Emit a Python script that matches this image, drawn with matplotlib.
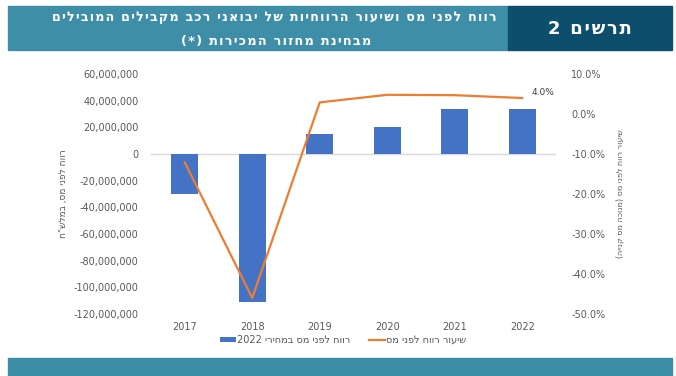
import matplotlib
matplotlib.use("Agg")
import matplotlib.pyplot as plt
from matplotlib.patches import Rectangle
from matplotlib.ticker import FuncFormatter
import re

plt.rcParams['font.family'] = ['DejaVu Sans']

years = ['2017', '2018', '2019', '2020', '2021', '2022']
profit = [-30e6, -111e6, 15e6, 20.3e6, 34e6, 33.8e6]
rate = [-12.1, -46.0, 2.9, 4.8, 4.7, 4.0]

title1 = 'רווח לפני מס ושיעור הרווחיות של יבואני רכב מקבילים המובילים'
title2 = 'מבחינת מחזור המכירות (*)'
box_label = 'תרשים 2'
left_label = 'רווח לפני מס, במלש"ח'
right_label = 'שיעור רווח לפני מס (מנוכה מס קנייה)'
bar_name = 'רווח לפני מס במחירי 2022'
line_name = 'שיעור רווח לפני מס'


def rtl(s):
    # visual order for hebrew text, numbers kept left to right
    r = s[::-1]
    r = re.sub(r'[0-9.,%]+', lambda m: m.group(0)[::-1], r)
    return r.translate(str.maketrans('()', ')('))


def spaced(s):
    # the header font in the source is letter spaced
    return '\u200a'.join(s)


fig = plt.figure(figsize=(6.76, 3.76), dpi=100)

# header
fig.patches.append(Rectangle((8/676, 1-50/376), 500/676, 44/376,
                             transform=fig.transFigure, color='#3e8ea8', zorder=0))
fig.patches.append(Rectangle((508/676, 1-50/376), 164/676, 44/376,
                             transform=fig.transFigure, color='#0c4e6c', zorder=0))
fig.text(497/676, 1-18/376, spaced(rtl(title1)), ha='right', va='center', color='white',
         fontsize=9.1, fontweight='bold')
fig.text(371/676, 1-42/376, spaced(rtl(title2)), ha='right', va='center', color='white',
         fontsize=9.3, fontweight='bold')
fig.text(590/676, 1-29/376, spaced(rtl(box_label)), ha='center', va='center', color='white',
         fontsize=13, fontweight='bold')

# bottom band
fig.patches.append(Rectangle((8/676, 0), 664/676, 18/376,
                             transform=fig.transFigure, color='#3b8ea6', zorder=0))

ax = fig.add_axes([151/676, 62/376, 405/676, 240/376])
x = range(len(years))
bars = ax.bar(x, profit, width=0.4, color='#4472c4', label=rtl(bar_name), zorder=2)
ax.set_ylim(-120e6, 60e6)
ax.set_yticks([v * 1e6 for v in range(-120, 61, 20)])
ax.yaxis.set_major_formatter(FuncFormatter(lambda v, p: f'{int(v):,}'))
ax.set_xlim(-0.5, 5.5)
ax.set_xticks(list(x))
ax.set_xticklabels(years)
ax.axhline(0, color='#d9d9d9', lw=1, zorder=1)
for s in ax.spines.values():
    s.set_visible(False)
ax.tick_params(length=0, labelsize=7, colors='#595959')
ax.tick_params(axis='y', pad=9)
ax.tick_params(axis='x', pad=6)
ax.set_ylabel(rtl(left_label), fontsize=6.5, color='#595959', labelpad=4)

ax2 = ax.twinx()
line, = ax2.plot(list(x), rate, color='#ed7d31', lw=1.6, label=rtl(line_name), zorder=3)
ax2.set_ylim(-50, 10)
ax2.set_yticks(range(-50, 11, 10))
ax2.yaxis.set_major_formatter(FuncFormatter(lambda v, p: f'{v:.1f}%'))
for s in ax2.spines.values():
    s.set_visible(False)
ax2.tick_params(length=0, labelsize=7, colors='#595959', pad=11)
ax2.set_ylabel(rtl(right_label), fontsize=5.8, color='#595959', rotation=90, labelpad=7)
ax2.annotate(f'{rate[-1]:.1f}%', (5, rate[-1]), xytext=(7, 1), textcoords='offset points',
             fontsize=6.5, color='#404040', va='bottom', ha='left')

fig.legend([bars, line], [rtl(bar_name), rtl(line_name)], loc='center',
           bbox_to_anchor=(343/676, 1-340/376), ncol=2, frameon=False, fontsize=7,
           handlelength=1.6, handleheight=0.5, columnspacing=2.0, handletextpad=0.1,
           labelcolor='#595959')

fig.savefig('out.png', dpi=100)
